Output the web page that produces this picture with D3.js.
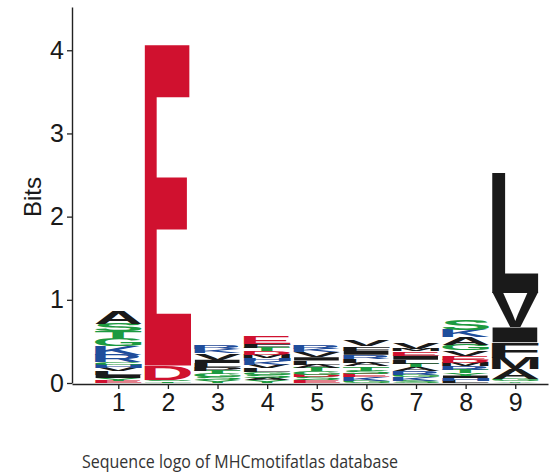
<!DOCTYPE html>
<html>
<head>
<meta charset="utf-8">
<script src="https://cdn.jsdelivr.net/npm/d3@7"></script>
<style>
  body { margin: 0; background: #fff; }
  svg { display: block; }
</style>
</head>
<body>
<script>
// Peptide positions 1..9 and the y-axis tick values (bits)
const positions = [1, 2, 3, 4, 5, 6, 7, 8, 9];
const yTicks = [0, 1, 2, 3, 4];

// Residues stacked at each position, bottom to top
const stackLetters = [
  ["E", "Y", "I", "L", "V", "H", "C", "R", "K", "G", "T", "S", "A"],
  ["T", "S", "D", "E"],
  ["Y", "S", "G", "T", "P", "L", "I", "V", "K", "R"],
  ["Y", "A", "S", "G", "L", "V", "K", "H", "M", "D", "T", "F", "E"],
  ["E", "S", "D", "G", "T", "A", "L", "I", "V", "K", "R"],
  ["G", "K", "E", "S", "T", "A", "L", "R", "I", "F", "V"],
  ["S", "K", "G", "R", "A", "T", "L", "I", "E", "M", "V"],
  ["L", "H", "I", "Y", "T", "R", "M", "D", "E", "V", "G", "A", "K", "S"],
  ["Y", "G", "A", "M", "F", "I", "V", "L"]
];

// Height of each residue in bits, same order as stackLetters
const stackBits = [
  [0.03, 0.03, 0.04, 0.04, 0.04, 0.04, 0.03, 0.09, 0.10, 0.09, 0.09, 0.09, 0.15],
  [0.02, 0.02, 0.17, 3.86],
  [0.03, 0.04, 0.04, 0.04, 0.04, 0.05, 0.04, 0.08, 0.05, 0.04],
  [0.03, 0.03, 0.04, 0.03, 0.05, 0.04, 0.05, 0.03, 0.04, 0.04, 0.04, 0.05, 0.09],
  [0.03, 0.04, 0.03, 0.04, 0.04, 0.04, 0.05, 0.04, 0.06, 0.04, 0.04],
  [0.03, 0.04, 0.04, 0.04, 0.05, 0.04, 0.05, 0.05, 0.05, 0.05, 0.08],
  [0.03, 0.04, 0.03, 0.04, 0.05, 0.04, 0.05, 0.05, 0.05, 0.03, 0.07],
  [0.03, 0.03, 0.03, 0.03, 0.04, 0.04, 0.04, 0.04, 0.05, 0.06, 0.07, 0.09, 0.09, 0.12],
  [0.02, 0.03, 0.12, 0.13, 0.19, 0.18, 0.41, 1.44]
];

// Chemistry colour scheme
const polar = "GSTYC", basic = "KRH", acidic = "DE", neutral = "NQ";
const colorOf = aa =>
  polar.includes(aa) ? "#1c9a40" :
  basic.includes(aa) ? "#1f4d9b" :
  acidic.includes(aa) ? "#d0112f" :
  neutral.includes(aa) ? "#7b3f9e" : "#1a1a1a";

const W = 557, H = 473;
const svg = d3.select("body").append("svg").attr("width", W).attr("height", H);

const x = d3.scaleLinear().domain([0.067, 9.66]).range([72, 548]);
const y = d3.scaleLinear().domain([0, 4.52]).range([383, 7]);
const letterWidth = 46.5;

// Tight glyph bounds measured on a canvas so each letter can be stretched to its box
const glyphFont = "Liberation Sans, Arial, sans-serif";
const ctx = document.createElement("canvas").getContext("2d");
ctx.font = `bold 200px ${glyphFont}`;
const metrics = {};
function glyph(aa) {
  if (!metrics[aa]) {
    const m = ctx.measureText(aa);
    metrics[aa] = {
      l: m.actualBoundingBoxLeft, r: m.actualBoundingBoxRight,
      a: m.actualBoundingBoxAscent, d: m.actualBoundingBoxDescent
    };
  }
  return metrics[aa];
}

// Build letter records with cumulative stack offsets
const letters = [];
positions.forEach((p, i) => {
  let base = 0;
  stackLetters[i].forEach((aa, j) => {
    const h = stackBits[i][j];
    letters.push({ pos: p, aa, y0: base, y1: base + h });
    base += h;
  });
});

const logo = svg.append("g");
logo.selectAll("text")
  .data(letters)
  .join("text")
  .attr("x", 0).attr("y", 0)
  .attr("font-family", glyphFont)
  .attr("font-weight", "bold")
  .attr("font-size", 200)
  .attr("fill", d => colorOf(d.aa))
  .text(d => d.aa)
  .attr("transform", d => {
    const g = glyph(d.aa);
    const gw = g.l + g.r, gh = g.a + g.d;
    const left = x(d.pos) - letterWidth / 2;
    const top = y(d.y1);
    const boxH = y(d.y0) - y(d.y1);
    return `translate(${left},${top}) scale(${letterWidth / gw},${boxH / gh}) translate(${g.l},${g.a})`;
  });

// Axes
const axisFont = "Liberation Sans, Arial, sans-serif";
const yAxis = svg.append("g")
  .attr("transform", `translate(${x.range()[0]},0)`)
  .call(d3.axisLeft(y).tickValues(yTicks).tickFormat(d3.format("d")).tickSize(5).tickSizeOuter(0).tickPadding(3));
const xAxis = svg.append("g")
  .attr("transform", `translate(0,${y(0) + 1})`)
  .call(d3.axisBottom(x).tickValues(positions).tickFormat(d3.format("d")).tickSize(5).tickSizeOuter(0).tickPadding(4));

[yAxis, xAxis].forEach(a => {
  a.attr("font-family", axisFont).attr("font-size", 25);
  a.select(".domain").attr("stroke", "#222").attr("stroke-width", 1.4);
  a.selectAll(".tick line").attr("stroke", "#222").attr("stroke-width", 1.3);
  a.selectAll(".tick text").attr("fill", "#1a1a1a");
});

// Axis title
svg.append("text")
  .attr("transform", "translate(41,197) rotate(-90)")
  .attr("text-anchor", "middle")
  .attr("font-family", axisFont)
  .attr("font-size", 24)
  .attr("fill", "#1a1a1a")
  .text("Bits");

// Caption below the chart
svg.append("text")
  .attr("x", 82).attr("y", 468)
  .attr("font-family", "Open Sans, sans-serif")
  .attr("font-size", 18)
  .attr("fill", "#333")
  .attr("textLength", 316)
  .attr("lengthAdjust", "spacingAndGlyphs")
  .text("Sequence logo of MHCmotifatlas database");
</script>
</body>
</html>
